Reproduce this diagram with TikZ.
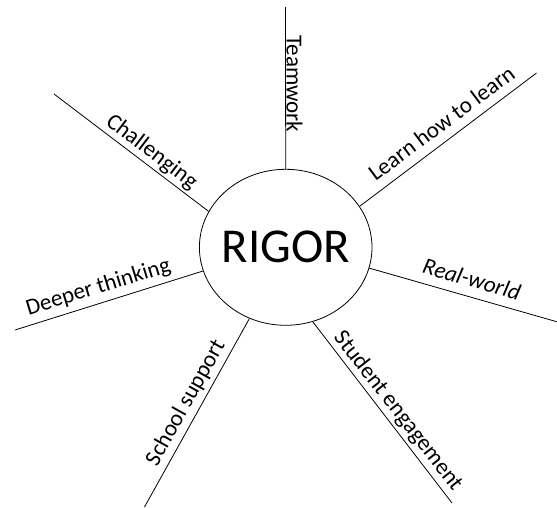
\documentclass[tikz,border=0pt]{standalone}
\usepackage{fontspec}
\setmainfont{Carlito}
\usetikzlibrary{shapes.geometric}
\begin{document}
\begin{tikzpicture}[x=1pt,y=-1pt,
  spoke/.style={line width=0.8pt},
  lbl/.style={anchor=base,inner sep=0pt,font=\fontsize{23}{23}\selectfont}]
\useasboundingbox (0,0) rectangle (557,508);
\node[ellipse,draw,line width=0.8pt,minimum width=172.6pt,minimum height=156pt,inner sep=0pt] (c) at (285.7,247.3) {};
\node[font=\fontsize{48.7}{48.7}\selectfont,inner sep=0pt] (rigor) at (c.center) {RIGOR};
\coordinate (eteam) at (285.5,7);
\coordinate (elearn) at (536.5,73);
\coordinate (ereal) at (556.7,321.7);
\coordinate (estud) at (452,503);
\coordinate (eschool) at (144.5,507);
\coordinate (edeep) at (15,330);
\coordinate (echal) at (54,94);
\draw[spoke] (c.90) -- (eteam);
\draw[spoke] (c.29.7) -- (elearn);
\draw[spoke] (c.-14.1) -- (ereal);
\draw[spoke] (c.-70.3) -- (estud);
\draw[spoke] (c.-117.2) -- (eschool);
\draw[spoke] (c.196.9) -- (edeep);
\draw[spoke] (c.155.1) -- (echal);
\node[lbl,rotate=-90] (tteam) at (286.5,84) {Teamwork};
\node[lbl,rotate=36.7] (tlearn) at (446.1,129.4) {Learn how to learn};
\node[lbl,rotate=-15.9] (treal) at (469.7,286.7) {\itshape Real-world};
\node[lbl,rotate=-52.1] (tstud) at (393.1,414.7) {Student engagement};
\node[lbl,rotate=60.8] (tschool) at (191.2,405.9) {School support};
\node[lbl,rotate=17] (tdeep) at (100.1,293.4) {Deeper thinking};
\node[lbl,rotate=-37.4] (tchal) at (147.9,157) {Challenging};
\end{tikzpicture}
\end{document}
